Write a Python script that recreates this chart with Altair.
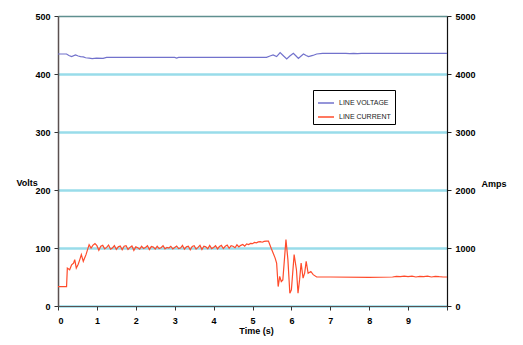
import altair as alt
import pandas as pd

# Line voltage (V) vs time (s)
volt_t = [0.0, 0.22, 0.28, 0.35, 0.45, 0.52, 0.58, 0.65, 0.71, 0.80, 0.88, 0.99, 1.16, 1.25,
          2.0, 3.0, 3.05, 3.1, 4.0, 5.0, 5.36, 5.45, 5.53, 5.62, 5.71, 5.80, 5.88, 5.96, 6.05,
          6.12, 6.18, 6.25, 6.31, 6.38, 6.44, 6.55, 6.65, 6.80, 7.4, 7.5, 7.6, 7.7, 7.8, 7.9,
          8.5, 9.0, 10.0]
volt_v = [434.5, 434.5, 432, 430, 432.8, 431, 430, 429.5, 428, 427.5, 426.5, 427.5, 427, 428.5,
          428.5, 428.5, 427.5, 428.5, 428.5, 428.5, 428.8, 431, 432.8, 430, 437, 431, 426, 431, 435.7,
          431, 427, 431, 434.5, 432, 430, 432, 434.5, 435.7, 435.7, 435, 435.7, 435.2, 435.7, 435.7,
          435.7, 435.7, 435.7]

# Line current (A) vs time (s)
curr_t = [0.0, 0.22, 0.24, 0.30, 0.35, 0.40, 0.43, 0.47, 0.52, 0.56, 0.60, 0.65, 0.72,
          0.80, 0.85, 0.90, 0.95, 1.00, 1.05, 1.10, 1.15, 1.20, 1.25, 1.30, 1.35, 1.40, 1.45,
          1.50, 1.55, 1.60, 1.65, 1.70, 1.75, 1.80, 1.85, 1.90, 1.95, 2.00, 2.05, 2.10, 2.15,
          2.20, 2.25, 2.30, 2.35, 2.40, 2.45, 2.50, 2.55, 2.60, 2.65, 2.70, 2.75, 2.80, 2.85,
          2.90, 2.95, 3.00, 3.05, 3.10, 3.15, 3.20, 3.25, 3.30, 3.35, 3.40, 3.45, 3.50, 3.55,
          3.60, 3.65, 3.70, 3.75, 3.80, 3.85, 3.90, 3.95, 4.00, 4.05, 4.10, 4.15, 4.20, 4.25,
          4.30, 4.35, 4.40, 4.45, 4.50, 4.55, 4.60, 4.65, 4.70, 4.75, 4.80, 4.85, 4.90, 4.95,
          5.00, 5.05, 5.10, 5.15, 5.20, 5.25, 5.30, 5.35, 5.41, 5.48, 5.53, 5.58, 5.62, 5.66,
          5.70, 5.74, 5.78, 5.86, 5.91, 5.96, 6.00, 6.07, 6.13, 6.17, 6.21, 6.25, 6.30, 6.34,
          6.38, 6.43, 6.50, 6.56, 6.65, 7.0, 8.0, 8.6, 8.7, 8.8, 8.9, 9.0, 9.1, 9.2, 9.3, 9.4,
          9.5, 9.6, 9.7, 9.8, 9.9, 10.0]
curr_a = [335, 335, 653, 625, 710, 740, 800, 653, 720, 800, 885, 770, 885,
          1058, 1000, 1050, 1075, 1040, 960, 1030, 1045, 985, 1010, 1050, 980, 1000, 1040,
          975, 1020, 1035, 970, 1030, 1040, 975, 1010, 1035, 960, 1020, 1005, 980, 1030,
          990, 1010, 1040, 975, 1025, 1015, 980, 1030, 990, 1005, 1040, 985, 1010, 1000,
          1030, 985, 1010, 1035, 990, 1000, 1045, 980, 1020, 1030, 970, 1025, 1040, 980,
          1010, 1045, 975, 1030, 1020, 985, 1045, 990, 1010, 1040, 985, 1025, 1045, 990,
          1030, 1050, 995, 1040, 1030, 1005, 1055, 1020, 1045, 1060, 1030, 1070, 1060, 1080,
          1075, 1095, 1090, 1105, 1110, 1100, 1115, 1120, 1120, 995, 913, 830, 740, 335,
          510, 422, 450, 1145, 800, 220, 280, 885, 625, 220, 450, 740, 480, 565,
          770, 565, 595, 540, 500, 500, 495, 500, 510, 505, 515, 505, 515, 500, 512, 505,
          515, 500, 512, 505, 500, 500]

series_names = ["LINE VOLTAGE", "LINE CURRENT"]
series_colors = ["#7272cc", "#ff4b2b"]

volt_df = pd.DataFrame({"t": volt_t, "v": volt_v, "series": series_names[0]})
curr_df = pd.DataFrame({"t": curr_t, "v": curr_a, "series": series_names[1]})

font = "Liberation Sans"

x_enc = alt.X("t:Q", scale=alt.Scale(domain=[0, 10], nice=False),
              axis=alt.Axis(values=list(range(11)), labelExpr="datum.value < 10 ? datum.label : ''",
                            title="Time (s)", titleFontWeight="bold", titleFontSize=9,
                            titleX=198, titleY=24, titleBaseline="middle",
                            labelFontWeight="bold", labelFontSize=9, labelPadding=6,
                            tickSize=4, tickColor="#333333", domainColor="#5a5050",
                            grid=False, labelFont=font, titleFont=font))

color_enc = alt.Color("series:N", scale=alt.Scale(domain=series_names, range=series_colors),
                      legend=alt.Legend(title=None, orient="none", legendX=255, legendY=74,
                                        strokeColor="#000000", fillColor="#ffffff", padding=4,
                                        labelFontSize=7, labelFont=font, symbolType="stroke",
                                        symbolStrokeWidth=1.5, symbolSize=256, rowPadding=2,
                                        labelColor="#222222", cornerRadius=0))

volt = alt.Chart(volt_df).mark_line(strokeWidth=1.2).encode(
    x=x_enc,
    y=alt.Y("v:Q", scale=alt.Scale(domain=[0, 500], nice=False),
            axis=alt.Axis(orient="left", values=[0, 100, 200, 300, 400, 500], format="d",
                          title="Volts", titleAngle=0, titleX=-42, titleY=166,
                          titleAlign="left", titleBaseline="middle",
                          titleFontWeight="bold", titleFontSize=9, titleFont=font,
                          labelFontWeight="bold", labelFontSize=9, labelFont=font,
                          labelPadding=4, tickSize=4, tickColor="#333333",
                          domainColor="#5a5050", domainWidth=1.5,
                          grid=True,
                          gridColor={"condition": {"test": "datum.value == 500", "value": "#5f8f8f"},
                                     "value": "#99dcea"},
                          gridWidth={"condition": {"test": "datum.value == 500", "value": 1.5},
                                     "value": 2.5})),
    color=color_enc,
)

curr = alt.Chart(curr_df).mark_line(strokeWidth=1.2).encode(
    x=x_enc,
    y=alt.Y("v:Q", scale=alt.Scale(domain=[0, 5000], nice=False),
            axis=alt.Axis(orient="right", values=[0, 1000, 2000, 3000, 4000, 5000], format="d",
                          title="Amps", titleAngle=0, titleX=34, titleY=167,
                          titleAlign="left", titleBaseline="middle",
                          titleFontWeight="bold", titleFontSize=9, titleFont=font,
                          labelFontWeight="bold", labelFontSize=9, labelFont=font,
                          labelPadding=4, tickSize=4, tickColor="#222222",
                          domainColor="#111111", domainWidth=1.2, grid=False)),
    color=color_enc,
)

chart = alt.layer(volt, curr).resolve_scale(y="independent").properties(
    width=389, height=290,
    autosize=alt.AutoSizeParams(type="none"),
    padding={"left": 50, "top": 8, "right": 68, "bottom": 31},
).configure_view(stroke=None).configure(background="#ffffff")

chart.save("out.html", embed_options={"renderer": "svg", "actions": False})
